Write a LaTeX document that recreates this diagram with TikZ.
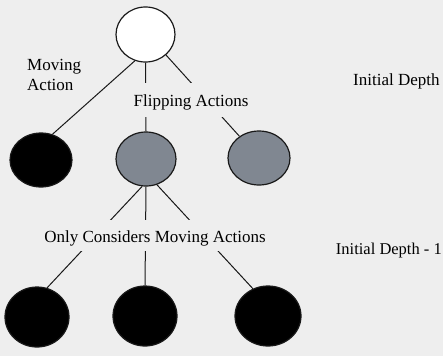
\documentclass[tikz,border=0pt]{standalone}
\usepackage{fontspec}
\setmainfont{Liberation Serif}
\usetikzlibrary{shapes.geometric}
\definecolor{bg}{RGB}{238,238,238}
\definecolor{graynode}{RGB}{128,135,145}
\definecolor{edge}{RGB}{25,25,25}
\tikzset{
  treenode/.style={ellipse, draw=edge, line width=1.2pt, inner sep=0pt},
  whitenode/.style={treenode, fill=white},
  blacknode/.style={treenode, fill=black},
  graynodestyle/.style={treenode, fill=graynode},
  branch/.style={draw=edge, line width=1pt},
  lbl/.style={font=\fontsize{17}{20}\selectfont, inner sep=0pt},
  gaplbl/.style={lbl, fill=bg, inner xsep=2pt, text height=14pt, text depth=1pt}
}
\begin{document}
\begin{tikzpicture}[x=1pt, y=-1pt]
\fill[bg] (0,0) rectangle (443,356);
\useasboundingbox (0,0) rectangle (443,356);
% nodes
\node[whitenode, minimum width=59pt, minimum height=55pt] (root) at (145.5,34.5) {};
\node[blacknode, minimum width=62pt, minimum height=54pt] (b1) at (41,160) {};
\node[graynodestyle, minimum width=60pt, minimum height=54pt] (g1) at (146,159) {};
\node[graynodestyle, minimum width=62pt, minimum height=54pt] (g2) at (259,158) {};
\node[blacknode, minimum width=64pt, minimum height=60pt] (b2) at (37,317) {};
\node[blacknode, minimum width=64pt, minimum height=60pt] (b3) at (145,316) {};
\node[blacknode, minimum width=66pt, minimum height=60pt] (b4) at (268,316) {};
% connectors
\draw[branch] (root.248) -- (b1.66);
\draw[branch] (root.south) -- (g1.north);
\draw[branch] (root.315) -- (g2.132);
\draw[branch] (g1.262) -- (b2.71);
\draw[branch] (g1.south) -- (b3.north);
\draw[branch] (g1.293) -- (b4.119);
% labels
\node[gaplbl, minimum height=34pt] (flip) at (191,100) {Flipping Actions};
\node[gaplbl, minimum height=31pt] (only) at (155,235.5) {Only Considers Moving Actions};
\node[lbl, align=left, anchor=base west] (moving) at (27,90) {Moving\\Action};
\node[lbl, anchor=base west] (depth1) at (353,85) {Initial Depth};
\node[lbl, font=\fontsize{16.5}{20}\selectfont, anchor=base east] (depth2) at (442,254) {Initial Depth - 1};
\end{tikzpicture}
\end{document}
